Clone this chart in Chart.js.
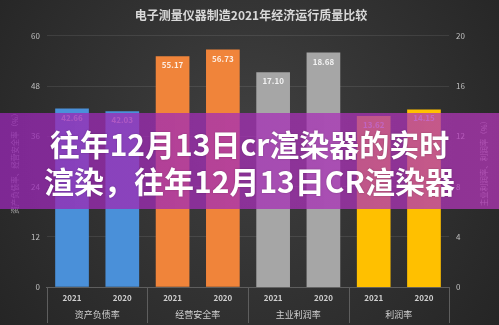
<!DOCTYPE html>
<html><head><meta charset="utf-8">
<script src="https://cdn.jsdelivr.net/npm/chart.js@4.4.1/dist/chart.umd.min.js"></script>
<style>
html,body{margin:0;padding:0;width:499px;height:325px;overflow:hidden;background:#2b2b2b;}
#wrap{position:relative;width:499px;height:325px;}
#banner{position:absolute;left:0;top:113px;width:499px;height:96px;
 background:linear-gradient(90deg, rgba(150,40,178,0.78), rgba(180,55,185,0.74));
 display:flex;align-items:center;justify-content:center;flex-direction:column;
 font-family:"Noto Sans CJK SC";font-weight:700;font-size:30px;line-height:37px;color:#fff;
 text-shadow:0 0 2px rgba(0,0,0,0.25);padding-top:2px;box-sizing:border-box;}
</style></head>
<body><div id="wrap"><canvas id="c" width="499" height="325"></canvas>
<div id="banner"><div>往年12月13日cr渲染器的实时</div><div>渲染，往年12月13日CR渲染器</div></div></div>
<script>
const chartTitle = '电子测量仪器制造2021年经济运行质量比较';
const years = ['2021','2020','2021','2020','2021','2020','2021','2020'];
const groups = ['资产负债率','经营安全率','主业利润率','利润率'];
const leftValues = [42.66, 42.03, 55.17, 56.73, null, null, null, null];
const rightValues = [null, null, null, null, 17.10, 18.68, 13.62, 14.15];
const barColors = ['#4a90d9','#4a90d9','#f0843a','#f0843a','#a6a6a6','#a6a6a6','#ffc000','#ffc000'];
const leftTitle = '资产负债率、经营安全率（%）';
const rightTitle = '主业利润率、利润率（%）';

const FONT = '"Noto Sans CJK SC", "Noto Sans", sans-serif';
const lineCol = '#5e5e5e';

const bgPlugin = {id:'bg', beforeDraw(chart){
  const {ctx,width,height}=chart;
  const g=ctx.createRadialGradient(width*0.5,height*0.4,10,width*0.5,height*0.45,width*0.62);
  g.addColorStop(0,'#3f3f3f'); g.addColorStop(1,'#252525');
  ctx.save(); ctx.fillStyle=g; ctx.fillRect(0,0,width,height); ctx.restore();
}};

const valueLabels = {id:'valueLabels', afterDatasetsDraw(chart){
  const ctx=chart.ctx; ctx.save();
  ctx.font='bold 8px ' + FONT; ctx.fillStyle='rgba(255,255,255,0.85)';
  ctx.textAlign='center'; ctx.textBaseline='middle';
  chart.data.datasets.forEach((ds,di)=>{
    const meta=chart.getDatasetMeta(di);
    meta.data.forEach((bar,i)=>{
      const v=ds.data[i]; if(v==null) return;
      ctx.fillText(v.toFixed(2), bar.x, bar.y+9);
    });
  });
  ctx.restore();
}};

// group separators of the two-row category axis, placed from the x scale
const separators = {id:'separators', afterDraw(chart){
  const xs = chart.scales.x; const ctx = chart.ctx;
  const half = (xs.getPixelForValue(1) - xs.getPixelForValue(0)) / 2;
  ctx.save(); ctx.strokeStyle = lineCol; ctx.lineWidth = 1;
  for (let i = 0; i <= years.length; i += 2) {
    const px = Math.round(i < years.length ? xs.getPixelForValue(i) - half : xs.getPixelForValue(years.length-1) + half) + 0.5;
    ctx.beginPath(); ctx.moveTo(px, chart.chartArea.bottom); ctx.lineTo(px, chart.height - 2); ctx.stroke();
  }
  ctx.restore();
}};

const rightTitlePlugin = {id:'rightTitle', afterDraw(chart){
  const s = chart.scales.y1; const ctx = chart.ctx;
  ctx.save();
  ctx.font = '7.5px ' + FONT; ctx.fillStyle = '#a6a6a6';
  ctx.textAlign='center'; ctx.textBaseline='middle';
  ctx.translate(s.right - 6 - 4.5, (s.top + s.bottom)/2);
  ctx.rotate(-Math.PI/2);
  ctx.fillText(rightTitle, 0, 0);
  ctx.restore();
}};

new Chart(document.getElementById('c'), {
  type:'bar',
  data:{labels:years, datasets:[
    {data:leftValues, yAxisID:'y', xAxisID:'x', backgroundColor:barColors, grouped:false, barPercentage:0.67, categoryPercentage:1},
    {data:rightValues, yAxisID:'y1', xAxisID:'x', backgroundColor:barColors, grouped:false, barPercentage:0.67, categoryPercentage:1}
  ]},
  options:{
    responsive:false, animation:false, devicePixelRatio:1,
    layout:{padding:{left:7,right:4,top:0,bottom:5.4}},
    plugins:{
      legend:{display:false}, tooltip:{enabled:false},
      title:{display:true, text:chartTitle, color:'#d9d9d9', font:{family:FONT,size:12,weight:'bold'}, padding:{top:8,bottom:13.5}}
    },
    scales:{
      x:{type:'category', position:'bottom', weight:0, offset:true,
        grid:{display:false, drawTicks:false},
        border:{display:true, color:lineCol},
        ticks:{color:'#d0d0d0', font:{family:FONT,size:8,weight:'bold'}, padding:6, maxRotation:0, autoSkip:false}
      },
      x2:{type:'category', labels:groups, position:'bottom', weight:1, offset:true,
        grid:{display:false, drawTicks:false},
        border:{display:false},
        ticks:{color:'#d0d0d0', font:{family:FONT,size:9}, padding:0, maxRotation:0, autoSkip:false}
      },
      y:{position:'left', min:0, max:60, ticks:{stepSize:12, color:'#c0c0c0', font:{family:FONT,size:8}, padding:7},
        grid:{color:'rgba(255,255,255,0.09)', drawTicks:false}, border:{display:false},
        title:{display:true, text:leftTitle, color:'#a6a6a6', font:{family:FONT,size:7.5}, padding:{top:4,bottom:4}}
      },
      y1:{position:'right', min:0, max:20, ticks:{stepSize:4, color:'#c0c0c0', font:{family:FONT,size:8}, padding:7},
        grid:{display:false, drawTicks:false}, border:{display:false},
        title:{display:true, text:rightTitle, color:'rgba(0,0,0,0)', font:{family:FONT,size:7.5}, padding:{top:6,bottom:8}}
      }
    }
  },
  plugins:[bgPlugin, valueLabels, separators, rightTitlePlugin]
});
</script></body></html>
